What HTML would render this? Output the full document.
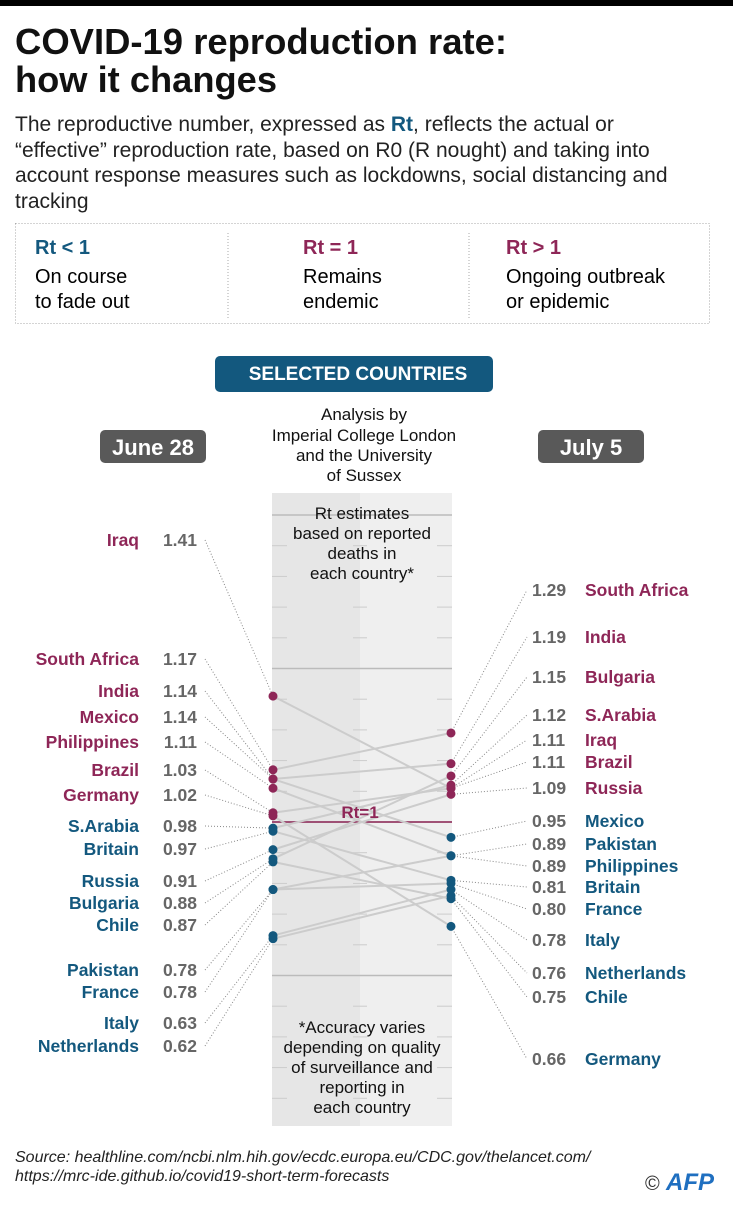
<!DOCTYPE html>
<html><head><meta charset="utf-8"><style>
body{margin:0;background:#fff;width:733px;height:1200px;overflow:hidden;font-family:"Liberation Sans",sans-serif;color:#111}
svg text{font-family:"Liberation Sans",sans-serif}
</style></head><body>
<svg width="733" height="1200" viewBox="0 0 733 1200">
<rect x="0" y="0" width="733" height="6" fill="#000"/>
<g font-weight="bold" font-size="36" fill="#111">
<text x="15" y="54" textLength="492" lengthAdjust="spacingAndGlyphs">COVID-19 reproduction rate:</text>
<text x="15" y="92" textLength="262" lengthAdjust="spacingAndGlyphs">how it changes</text></g>
<g font-size="21" fill="#222">
<text x="15" y="131">The reproductive number, expressed as <tspan fill="#13587e" font-weight="bold">Rt</tspan>, reflects the actual or</text>
<text x="15" y="157">“effective” reproduction rate, based on R0 (R nought) and taking into</text>
<text x="15" y="182">account response measures such as lockdowns, social distancing and</text>
<text x="15" y="208">tracking</text></g>
<g>
<rect x="15.5" y="223.5" width="694" height="100" fill="none" stroke="#aaa" stroke-dasharray="1 2"/>
<line x1="228" y1="233" x2="228" y2="318" stroke="#aaa" stroke-dasharray="1 2"/>
<line x1="469" y1="233" x2="469" y2="318" stroke="#aaa" stroke-dasharray="1 2"/>
<g font-size="20"><text x="35" y="254" fill="#13587e" font-weight="bold">Rt &lt; 1</text><text x="35" y="283">On course</text><text x="35" y="308">to fade out</text>
<text x="303" y="254" fill="#8e2657" font-weight="bold">Rt = 1</text><text x="303" y="283">Remains</text><text x="303" y="308">endemic</text>
<text x="506" y="254" fill="#8e2657" font-weight="bold">Rt &gt; 1</text><text x="506" y="283">Ongoing outbreak</text><text x="506" y="308">or epidemic</text></g></g>
<g><rect x="215" y="356" width="278" height="36" rx="5" fill="#13587e"/>
<text x="358" y="380" text-anchor="middle" fill="#fff" font-weight="bold" font-size="19">SELECTED COUNTRIES</text></g>
<g><rect x="100" y="430" width="106" height="33" rx="5" fill="#595959"/><text x="153" y="455" text-anchor="middle" fill="#fff" font-weight="bold" font-size="22">June 28</text>
<rect x="538" y="430" width="106" height="33" rx="5" fill="#595959"/><text x="591" y="455" text-anchor="middle" fill="#fff" font-weight="bold" font-size="22">July 5</text></g>
<g font-size="17" text-anchor="middle" fill="#111"><text x="364" y="420">Analysis by</text><text x="364" y="441">Imperial College London</text><text x="364" y="461">and the University</text><text x="364" y="481">of Sussex</text></g>
<g id="chart"></g>
<g font-size="16" font-style="italic" fill="#222"><text x="15" y="1162">Source: healthline.com/ncbi.nlm.hih.gov/ecdc.europa.eu/CDC.gov/thelancet.com/</text><text x="15" y="1181">https://mrc-ide.github.io/covid19-short-term-forecasts</text></g>
<g><text x="645" y="1190" font-size="20" fill="#333">©</text><text x="666" y="1190" font-size="24" font-weight="bold" font-style="italic" fill="#1f6fc0">AFP</text></g>
</svg>
<script>
const countriesL=["Iraq","South Africa","India","Mexico","Philippines","Brazil","Germany","S.Arabia","Britain","Russia","Bulgaria","Chile","Pakistan","France","Italy","Netherlands"];
const valuesL=[1.41,1.17,1.14,1.14,1.11,1.03,1.02,0.98,0.97,0.91,0.88,0.87,0.78,0.78,0.63,0.62];
const countriesR=["South Africa","India","Bulgaria","S.Arabia","Iraq","Brazil","Russia","Mexico","Pakistan","Philippines","Britain","France","Italy","Netherlands","Chile","Germany"];
const valuesR=[1.29,1.19,1.15,1.12,1.11,1.11,1.09,0.95,0.89,0.89,0.81,0.80,0.78,0.76,0.75,0.66];
const labelYL=[540,659,691,717,742,770,795,826,849,881,903,925,970,992,1023,1046];
const labelYR=[590,637,677,715,740,762,788,821,844,866,887,909,940,973,997,1059];
const NS="http://www.w3.org/2000/svg";
const g=document.getElementById('chart');
const y=v=>822-(v-1)*307;
const XL=273,XR=451,MAG="#8e2657",TEAL="#13587e";
function mk(t,a,p){const e=document.createElementNS(NS,t);for(const k in a)e.setAttribute(k,a[k]);(p||g).appendChild(e);return e;}
const band=mk('g',{});


mk('rect',{x:272,y:493,width:88,height:633,fill:'#e6e6e6'},band);
mk('rect',{x:360,y:493,width:92,height:633,fill:'#efefef'},band);
for(let i=0;i<=20;i++){const v=i/10,yy=y(v);if(yy<495||yy>1128)continue;
 if(i%5===0){mk('line',{x1:272,x2:452,y1:yy,y2:yy,stroke:'#bbb','stroke-width':1.5},band);}
 else{[[272,287],[353,367],[437,452]].forEach(s=>mk('line',{x1:s[0],x2:s[1],y1:yy,y2:yy,stroke:'#ccc','stroke-width':1},band));}}
const t1=mk('g',{'font-size':17,'text-anchor':'middle',fill:'#111'});


[["Rt estimates",519],["based on reported",539],["deaths in",559],["each country*",579],["*Accuracy varies",1033],["depending on quality",1053],["of surveillance and",1073],["reporting in",1093],["each country",1113]].forEach(a=>{mk('text',{x:362,y:a[1]},t1).textContent=a[0];});
const rl=mk('line',{x1:272,x2:452,y1:y(1),y2:y(1),stroke:MAG,'stroke-width':1.5});


countriesL.forEach((c,i)=>{const j=countriesR.indexOf(c);
 const l=mk('line',{x1:XL,y1:y(valuesL[i]),x2:XR,y2:y(valuesR[j]),stroke:'#ccc','stroke-width':2});
 
 });
const rt=mk('text',{x:360,y:y(1)-4,'text-anchor':'middle',fill:MAG,'font-weight':'bold','font-size':17});
rt.textContent='Rt=1';


countriesL.forEach((c,i)=>{const col=valuesL[i]>1?MAG:TEAL,ly=labelYL[i];
 mk('line',{x1:205,y1:ly,x2:XL,y2:y(valuesL[i]),stroke:'#888','stroke-dasharray':'1 2'});
 const n=mk('text',{x:139,y:ly+6,'text-anchor':'end',fill:col,'font-weight':'bold','font-size':17.5});n.textContent=c;
 
 
 const v=mk('text',{x:197,y:ly+6,'text-anchor':'end',fill:'#666','font-weight':'bold','font-size':17.5});v.textContent=valuesL[i].toFixed(2);
 
 });
countriesR.forEach((c,i)=>{const col=valuesR[i]>1?MAG:TEAL,ly=labelYR[i];
 mk('line',{x1:XR,y1:y(valuesR[i]),x2:527,y2:ly,stroke:'#888','stroke-dasharray':'1 2'});
 const v=mk('text',{x:532,y:ly+6,fill:'#666','font-weight':'bold','font-size':17.5});v.textContent=valuesR[i].toFixed(2);
 
 
 const n=mk('text',{x:585,y:ly+6,fill:col,'font-weight':'bold','font-size':17.5});n.textContent=c;
 
 });
countriesL.forEach((c,i)=>{const d=mk('circle',{cx:XL,cy:y(valuesL[i]),r:4.5,fill:valuesL[i]>1?MAG:TEAL});
 
 });
countriesR.forEach((c,i)=>{const d=mk('circle',{cx:XR,cy:y(valuesR[i]),r:4.5,fill:valuesR[i]>1?MAG:TEAL});
 
 });
</script>
</body></html>
